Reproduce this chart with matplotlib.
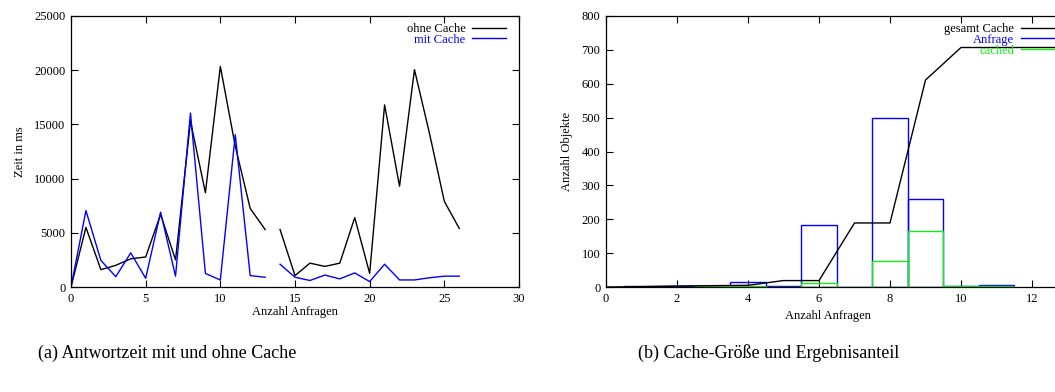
import matplotlib
matplotlib.use("Agg")
import matplotlib.pyplot as plt
from matplotlib.lines import Line2D

plt.rcParams['font.family'] = ['Liberation Serif', 'DejaVu Serif']

# ---- data: left chart (Antwortzeit) ----
x_a1 = [0, 1, 2, 3, 4, 5, 6, 7, 8, 9, 10, 11, 12, 13]
ohne_a1 = [0, 5500, 1600, 2000, 2600, 2770, 6700, 2500, 15300, 8700, 20350, 13000, 7250, 5300]
mit_a1 = [0, 7050, 2450, 950, 3150, 800, 6900, 1000, 16050, 1250, 650, 14050, 1050, 900]
x_a2 = [14, 15, 16, 17, 18, 19, 20, 21, 22, 23, 24, 25, 26]
ohne_a2 = [5300, 1050, 2200, 1900, 2200, 6400, 1250, 16800, 9300, 20050, 14200, 7900, 5400]
mit_a2 = [2100, 900, 600, 1100, 750, 1300, 500, 2100, 650, 650, 850, 1000, 1000]

# ---- data: right chart (Cache-Größe) ----
x_b = [0, 1, 2, 3, 4, 5, 6, 7, 8, 9, 10, 11, 12, 13]
gesamt = [0, 1, 3, 4, 5, 19, 19, 189, 189, 611, 707, 707, 707, 707]
bins_b = [1, 2, 3, 4, 5, 6, 7, 8, 9, 10, 11]
anfrage = [3, 3, 3, 16, 2, 183, 0, 500, 260, 2, 5]
cached = [1, 1, 2, 3, 1, 12, 0, 77, 165, 3, 3]

W, H = 1055, 392
fig = plt.figure(figsize=(W / 100, H / 100), dpi=100)

fs = 9
GREEN = '#11ee11'

def style(ax):
    ax.tick_params(direction='in', length=5, width=0.8, top=True, right=True,
                   labelsize=fs, pad=4)
    for s in ax.spines.values():
        s.set_linewidth(0.9)

# left axes
axw1 = 448
ax1 = fig.add_axes([71 / W, (H - 287) / H, axw1 / W, 271 / H])
ax1.plot(x_a1, ohne_a1, color='black', lw=1.0, label='ohne Cache')
ax1.plot(x_a1, mit_a1, color='blue', lw=1.0, label='mit Cache')
ax1.plot(x_a2, ohne_a2, color='black', lw=1.0)
ax1.plot(x_a2, mit_a2, color='blue', lw=1.0)
ax1.set_xlim(0, 30)
ax1.set_ylim(0, 25000)
ax1.set_xticks(range(0, 31, 5))
ax1.set_yticks(range(0, 25001, 5000))
style(ax1)
ax1.set_xlabel('Anzahl Anfragen', fontsize=fs, labelpad=1)
ax1.set_ylabel('Zeit in ms', fontsize=fs, labelpad=6)
leg1 = ax1.legend(loc='upper right', frameon=False, markerfirst=False, fontsize=fs,
                  handlelength=2.7, handletextpad=0.55, labelspacing=-0.1,
                  borderaxespad=0, borderpad=0, labelcolor='linecolor',
                  bbox_to_anchor=((506 - 71) / axw1, (287 - 23) / 271))
for t in leg1.get_texts():
    t.set_ha('right')

# right axes
unit = 35.5
span = 13.5
axw2 = span * unit
ax2 = fig.add_axes([606 / W, (H - 287) / H, axw2 / W, 271 / H])
ax2.plot(x_b, gesamt, color='black', lw=1.0, zorder=3)
ax2.bar(bins_b, anfrage, width=1.0, fill=False, edgecolor='blue', lw=1.0, zorder=2)
ax2.bar(bins_b, cached, width=1.0, fill=False, edgecolor=GREEN, lw=1.0, zorder=2)
ax2.set_xlim(0, span)
ax2.set_ylim(0, 800)
ax2.set_xticks(range(0, 13, 2))
ax2.set_yticks(range(0, 801, 100))
style(ax2)
ax2.set_xlabel('Anzahl Anfragen', fontsize=fs, labelpad=1)
ax2.xaxis.set_label_coords(222 / axw2, -0.085)
ax2.set_ylabel('Anzahl Objekte', fontsize=fs, labelpad=6)
handles = [Line2D([], [], color='black', lw=1.0),
           Line2D([], [], color='blue', lw=1.0),
           Line2D([], [], color=GREEN, lw=1.0)]
leg2 = ax2.legend(handles, ['gesamt Cache', 'Anfrage', 'cached'], loc='upper right',
                  frameon=False, markerfirst=False, fontsize=fs,
                  handlelength=3.6, handletextpad=0.55, labelspacing=-0.1,
                  borderaxespad=0, borderpad=0, labelcolor='linecolor',
                  bbox_to_anchor=((1066 - 606) / axw2, (287 - 23) / 271))
for t in leg2.get_texts():
    t.set_ha('right')

# captions
fig.text(38 / W, 1 - 353 / H, '(a) Antwortzeit mit und ohne Cache', fontsize=13,
         ha='left', va='center')
fig.text(638 / W, 1 - 353 / H, '(b) Cache-Größe und Ergebnisanteil', fontsize=13,
         ha='left', va='center')

fig.savefig('out.png', dpi=100)
